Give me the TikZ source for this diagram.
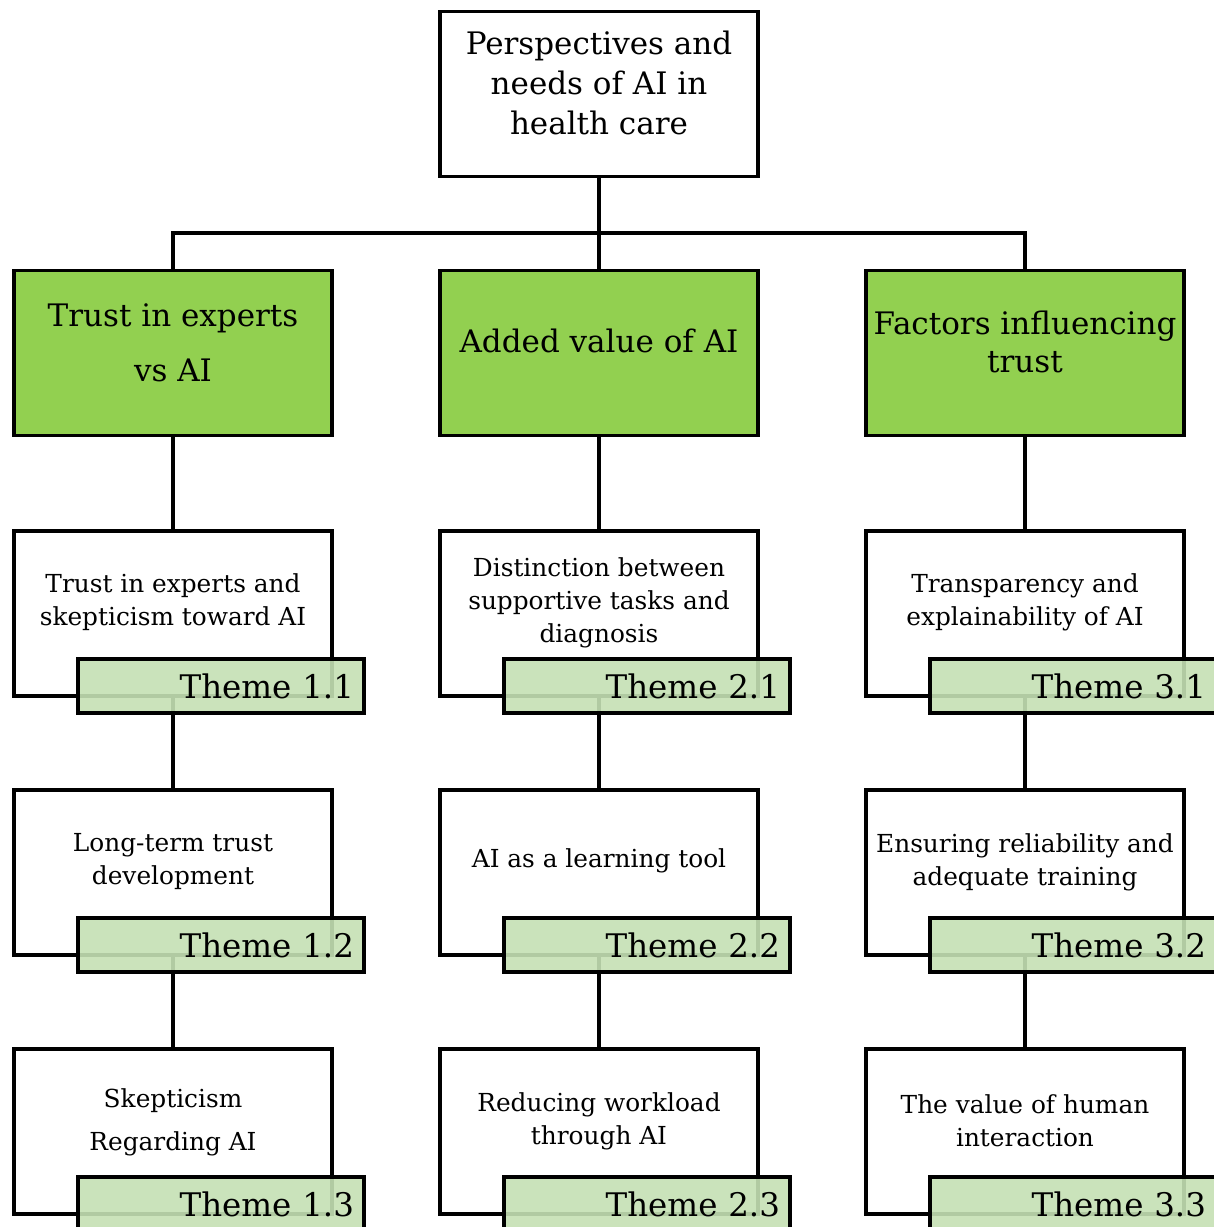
\documentclass[tikz,border=0pt]{standalone}
\usepackage{fontspec}
\setmainfont{DejaVu Serif}
\definecolor{topgreen}{HTML}{92D050}
\definecolor{themegreen}{HTML}{C5E0B4}
\begin{document}
\begin{tikzpicture}[x=1pt,y=-1pt,
  box/.style={draw=black,line width=3.2pt,minimum width=318pt,minimum height=165pt,inner sep=0pt},
  wbox/.style={box,fill=white},
  gbox/.style={box,fill=topgreen},
  themebox/.style={draw=black,line width=3.2pt,fill=themegreen,fill opacity=0.9,text opacity=1,
    minimum height=54pt,text width=266pt,inner xsep=10pt,inner ysep=0pt,align=right,
    font=\fontsize{32.5pt}{36pt}\selectfont},
  conn/.style={line width=3.2pt},
  wtext/.style={align=center,font=\fontsize{24.8pt}{33pt}\selectfont,inner sep=0pt},
  gtext/.style={align=center,inner sep=0pt},
]
\useasboundingbox (0,0) rectangle (1214,1227);
\begin{scope}
\clip (0,0) rectangle (1214,1227);
% top
\node[wbox] (top) at (599,94) {};
\node[align=center,inner sep=0pt,font=\fontsize{31pt}{40pt}\selectfont] (toptext) at (599,83) {Perspectives and\\needs of AI in\\health care};
% green
\node[gbox] (g1) at (173,353) {};
\node[gbox] (g2) at (599,353) {};
\node[gbox] (g3) at (1025,353) {};
\node[gtext,font=\fontsize{31pt}{55pt}\selectfont] (g1t) at (173,343) {Trust in experts\\vs AI};
\node[gtext,font=\fontsize{31pt}{38pt}\selectfont] (g2t) at (599,341) {Added value of AI};
\node[gtext,font=\fontsize{31pt}{38pt}\selectfont] (g3t) at (1025,342) {Factors influencing\\trust};
% connectors top
\coordinate (hj) at (599,233);
\draw[conn] (top.south) -- (g2.north);
\draw[conn] (g1.north) |- (hj) -| (g3.north);
% white boxes
\foreach \c/\x in {1/173,2/599,3/1025}{
  \node[wbox] (w\c1) at (\x,613.5) {};
  \node[wbox] (w\c2) at (\x,872.5) {};
  \node[wbox] (w\c3) at (\x,1131.5) {};
  \draw[conn] (g\c.south) -- (w\c1.north);
  \draw[conn] (w\c1.south) -- (w\c2.north);
  \draw[conn] (w\c2.south) -- (w\c3.north);
}
% white texts
\node[wtext] (t11) at (173,602) {Trust in experts and\\skepticism toward AI};
\node[wtext] (t21) at (599,603) {Distinction between\\supportive tasks and\\diagnosis};
\node[wtext] (t31) at (1025,602) {Transparency and\\explainability of AI};
\node[wtext] (t12) at (173,862) {Long-term trust\\development};
\node[wtext] (t22) at (599,861) {AI as a learning tool};
\node[wtext] (t32) at (1025,862) {Ensuring reliability and\\adequate training};
\node[wtext,font=\fontsize{24.8pt}{43pt}\selectfont] (t13) at (173,1122) {Skepticism\\Regarding AI};
\node[wtext] (t23) at (599,1121) {Reducing workload\\through AI};
\node[wtext] (t33) at (1025,1121) {The value of human\\interaction};
% theme boxes
\foreach \c/\x in {1/221,2/647,3/1073}{
  \node[themebox] (th\c1) at (\x,686) {Theme \c.1};
  \node[themebox] (th\c2) at (\x,945) {Theme \c.2};
  \node[themebox] (th\c3) at (\x,1204) {Theme \c.3};
}
\end{scope}
\end{tikzpicture}
\end{document}
